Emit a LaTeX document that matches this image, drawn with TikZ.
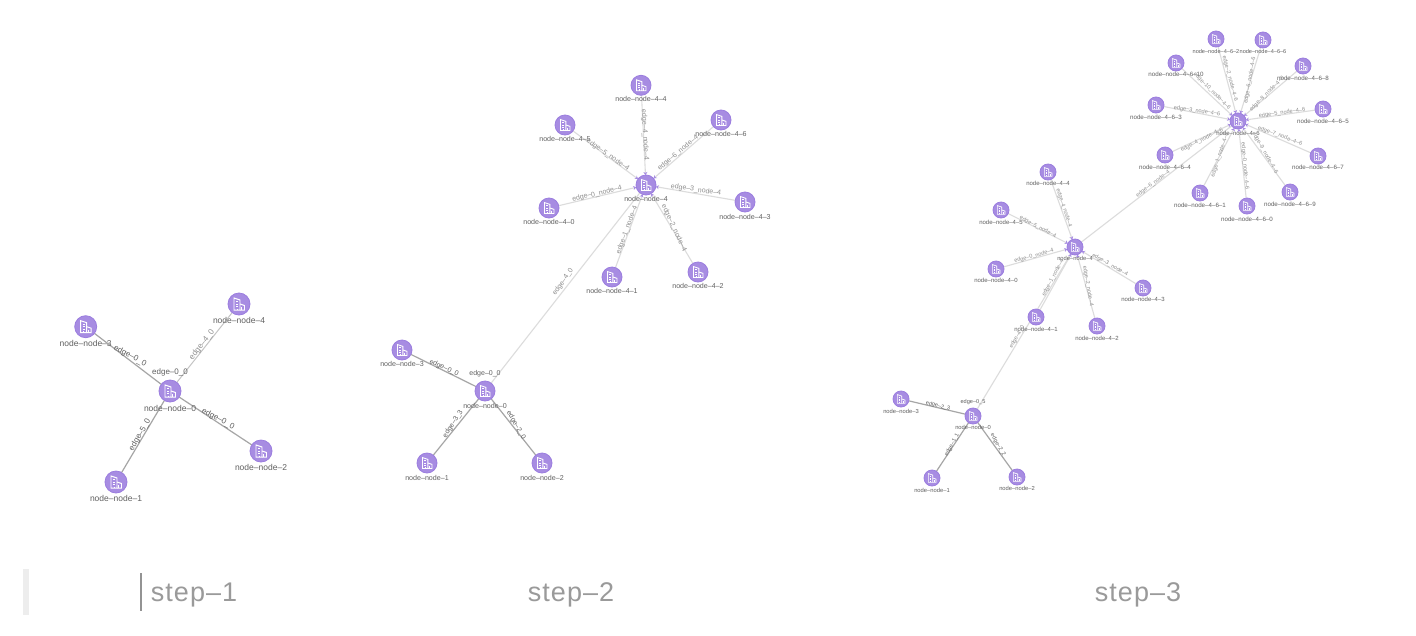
\documentclass[tikz,border=0pt]{standalone}
\usepackage{fontspec}
\setmainfont{Liberation Sans}
\newfontfamily\stepfont{Liberation Sans}[LetterSpace=4]
\usetikzlibrary{arrows.meta}
\definecolor{nodefill}{HTML}{A78CE2}
\definecolor{nodeline}{HTML}{9B7DDF}
\definecolor{dark}{HTML}{A6A6A6}
\definecolor{mid}{HTML}{C4C4C4}
\definecolor{pale}{HTML}{DCDCDC}
\definecolor{txtd}{HTML}{606060}
\definecolor{txtl}{HTML}{8E8E8E}
\definecolor{captxt}{HTML}{9A9A9A}
\pgfdeclarelayer{bg}
\pgfsetlayers{bg,main}
\tikzset{
  gnode/.style={circle,fill=nodefill,draw=nodeline,line width=0.8pt,inner sep=0pt,outer sep=0pt},
  glabel/.style={text=txtd,inner sep=0pt,anchor=center},
  elabel/.style={inner sep=0pt,anchor=center,text=txtl},
  edged/.style={draw=dark,line width=1.2pt},
  edgem/.style={draw=mid,line width=1pt},
  edgep/.style={draw=pale,line width=1.1pt},
  edgeph/.style={draw=pale,line width=1.1pt,-{Stealth[length=3pt,width=4pt,color=nodefill]}},
  stepname/.style={text=captxt,inner sep=0pt,font=\stepfont\fontsize{27}{30}\selectfont},
}
\newcount\elc
% id, x, y, radius, font size, label y, label text
\newcommand\gn[7]{%
  \node[gnode,minimum size=#4*2pt] (#1) at (#2,#3) {};
  \begin{scope}[shift={(#2,#3)},scale=#4/11,draw=white,line width=#4*0.09pt]
    \draw (-5,6) -- (-5,-6) -- (1,-4) -- (1,6) -- cycle;
    \draw (1,0) -- (5.5,1.5) -- (5.5,6) -- (1,6);
    \draw (-3.2,-2.5) -- (-0.8,-2.5) (-3.2,0) -- (-0.8,0) (-3.2,2.5) -- (-0.8,2.5);
    \draw (2.8,3) -- (2.8,6) (-2,4.5) -- (-2,6);
  \end{scope}
  \node[glabel,font=\fontsize{#5}{#5}\selectfont] (#1-l) at (#2,#6) {#7};%
}
% x, y, rotation, font size, text colour, text
\newcommand\el[6]{%
  \global\advance\elc by 1
  \node[elabel,rotate=#3,text=#5,font=\fontsize{#4}{#4}\selectfont] (el\the\elc) at (#1,#2) {#6};%
}
\begin{document}
\begin{tikzpicture}[x=1pt,y=-1pt]
\useasboundingbox (0,0) rectangle (1416,635);
\begin{pgfonlayer}{bg}
  \fill[white] (0,0) rectangle (1416,635);
\end{pgfonlayer}

% ---------- step 1
\gn{a0}{170}{391}{11}{8.5}{408}{node–node–0}
\gn{a1}{116}{482}{11}{8.5}{498}{node–node–1}
\gn{a2}{261}{451}{11}{8.5}{467}{node–node–2}
\gn{a3}{85.7}{326.7}{11}{8.5}{343}{node–node–3}
\gn{a4}{239}{304}{11}{8.5}{320}{node–node–4}
\begin{pgfonlayer}{bg}
  \draw[edged] (a3) -- (a0);
  \draw[edged] (a2) -- (a0);
  \draw[edged] (a1) -- (a0);
  \draw[edgem] (a4) -- (a0);
\end{pgfonlayer}
\el{130}{356}{-28}{8}{txtd}{edge–0\_0}
\el{202}{345}{52}{8}{txtl}{edge–4\_0}
\el{170}{372}{0}{8}{txtd}{edge–0\_0}
\el{218}{419}{-28}{8}{txtd}{edge–0\_0}
\el{140}{435}{60}{8}{txtd}{edge–5\_0}

% ---------- step 2
\gn{b0}{485}{391}{10}{7.1}{406}{node–node–0}
\gn{b1}{427}{463}{10}{7.1}{478}{node–node–1}
\gn{b2}{542}{463}{10}{7.1}{478}{node–node–2}
\gn{b3}{402}{350}{10}{7.1}{364}{node–node–3}
\gn{b4}{646}{185}{10}{7.1}{199}{node–node–4}
\gn{b40}{549}{208}{10}{7.1}{222}{node–node–4–0}
\gn{b41}{612}{277}{10}{7.1}{291}{node–node–4–1}
\gn{b42}{698}{272}{10}{7.1}{286}{node–node–4–2}
\gn{b43}{745}{202}{10}{7.1}{217}{node–node–4–3}
\gn{b44}{641}{85.3}{10}{7.1}{99}{node–node–4–4}
\gn{b45}{565}{125}{10}{7.1}{139}{node–node–4–5}
\gn{b46}{721}{120}{10}{7.1}{134}{node–node–4–6}
\begin{pgfonlayer}{bg}
  \draw[edged] (b3) -- (b0);
  \draw[edged] (b1) -- (b0);
  \draw[edged] (b2) -- (b0);
  \draw[edgep] (b4) -- (b0);
  \foreach \n in {40,41,42,43,44,45,46} {\draw[edgeph] (b\n) -- (b4);}
\end{pgfonlayer}
\el{444}{368}{-25}{7}{txtd}{edge–0\_0}
\el{485}{374}{0}{7}{txtd}{edge–0\_0}
\el{453}{424}{57}{7}{txtd}{edge–3\_3}
\el{516}{425}{-60}{7}{txtd}{edge–2\_0}
\el{563}{282}{55}{7}{txtl}{edge–4\_0}
\el{645}{135}{-87}{7}{txtl}{edge–4\_node–4}
\el{608}{155}{-35}{7}{txtl}{edge–5\_node–4}
\el{678}{153}{40}{7}{txtl}{edge–6\_node–4}
\el{696}{190}{-8}{7}{txtl}{edge–3\_node–4}
\el{674}{228}{-65}{7}{txtl}{edge–2\_node–4}
\el{627}{230}{70}{7}{txtl}{edge–1\_node–4}
\el{597}{194}{13}{7}{txtl}{edge–0\_node–4}

% ---------- step 3
\gn{c0}{973}{416}{8}{5.8}{427}{node–node–0}
\gn{c1}{932}{478}{8}{5.8}{490}{node–node–1}
\gn{c2}{1017}{477}{8}{5.8}{488}{node–node–2}
\gn{c3}{901}{399}{8}{5.8}{411}{node–node–3}
\gn{c4}{1075}{247}{8}{5.8}{258}{node–node–4}
\gn{c40}{996}{269}{8}{6}{280}{node–node–4–0}
\gn{c41}{1036}{317}{8}{6}{329}{node–node–4–1}
\gn{c42}{1097}{326}{8}{6}{338}{node–node–4–2}
\gn{c43}{1143}{288}{8}{6}{299}{node–node–4–3}
\gn{c44}{1048}{172}{8}{6}{183}{node–node–4–4}
\gn{c45}{1001}{210}{8}{6}{222}{node–node–4–5}
\gn{c46}{1238}{121}{8}{6}{133}{node–node–4–6}
\gn{d0}{1247}{206}{8}{6.2}{219}{node–node–4–6–0}
\gn{d1}{1200}{193}{8}{6.2}{205}{node–node–4–6–1}
\gn{d2}{1216}{39}{8}{5.6}{51}{node–node–4–6–2}
\gn{d3}{1156}{105}{8}{6.2}{117}{node–node–4–6–3}
\gn{d4}{1165}{155}{8}{6.2}{167}{node–node–4–6–4}
\gn{d5}{1323}{109}{8}{6.2}{121}{node–node–4–6–5}
\gn{d6}{1263}{40}{8}{5.6}{51}{node–node–4–6–6}
\gn{d7}{1318}{156}{8}{6.2}{167}{node–node–4–6–7}
\gn{d8}{1303}{66}{8}{6.2}{78}{node–node–4–6–8}
\gn{d9}{1290}{192}{8}{6.2}{204}{node–node–4–6–9}
\gn{d10}{1176}{63}{8}{6.2}{74}{node–node–4–6–10}
\begin{pgfonlayer}{bg}
  \draw[edged] (c3) -- (c0);
  \draw[edged] (c1) -- (c0);
  \draw[edged] (c2) -- (c0);
  \draw[edgep] (c4) -- (c0);
  \draw[edgep] (c46) -- (c4);
  \foreach \n in {40,41,42,43,44,45} {\draw[edgeph] (c\n) -- (c4);}
  \foreach \n in {0,...,10} {\draw[edgeph] (d\n) -- (c46);}
\end{pgfonlayer}
\el{938}{406}{-14}{5.6}{txtd}{edge–2\_3}
\el{973}{402}{0}{5.6}{txtd}{edge–0\_5}
\el{952}{445}{62}{5.6}{txtd}{edge–1\_1}
\el{998}{445}{-60}{5.6}{txtd}{edge–2\_2}
\el{1017}{337}{60}{5.6}{txtl}{edge–4\_0}
\el{1064}{208}{-72}{5.6}{txtl}{edge–4\_node–4}
\el{1038}{227}{-28}{5.6}{txtl}{edge–5\_node–4}
\el{1034}{256}{15}{5.6}{txtl}{edge–0\_node–4}
\el{1053}{278}{62}{5.6}{txtl}{edge–1\_node–4}
\el{1088}{286}{-80}{5.6}{txtl}{edge–2\_node–4}
\el{1110}{265}{-30}{5.6}{txtl}{edge–3\_node–4}
\el{1153}{184}{37}{5.6}{txtl}{edge–6\_node–4}
\el{1230}{79}{-75}{5.6}{txtl}{edge–2\_node–4–6}
\el{1250}{80}{80}{5.6}{txtl}{edge–6\_node–4–6}
\el{1267}{94}{45}{5.6}{txtl}{edge–8\_node–4–6}
\el{1282}{113}{8}{5.6}{txtl}{edge–5\_node–4–6}
\el{1280}{136}{-20}{5.6}{txtl}{edge–7\_node–4–6}
\el{1265}{153}{-60}{5.6}{txtl}{edge–9\_node–4–6}
\el{1245}{166}{-85}{5.6}{txtl}{edge–0\_node–4–6}
\el{1220}{155}{72}{5.6}{txtl}{edge–1\_node–4–6}
\el{1202}{140}{27}{5.6}{txtl}{edge–4\_node–4–6}
\el{1197}{111}{-8}{5.6}{txtl}{edge–3\_node–4–6}
\el{1212}{91}{-45}{5.6}{txtl}{edge–10\_node–4–6}

% ---------- captions
\fill[black!7] (23,569) rectangle (29,615);
\draw[gray!85,line width=1.3pt] (141,573) -- (141,611);
\node[stepname] (s1) at (194,595) {step–1};
\node[stepname] (s2) at (571,595) {step–2};
\node[stepname] (s3) at (1138,595) {step–3};
\end{tikzpicture}
\end{document}
